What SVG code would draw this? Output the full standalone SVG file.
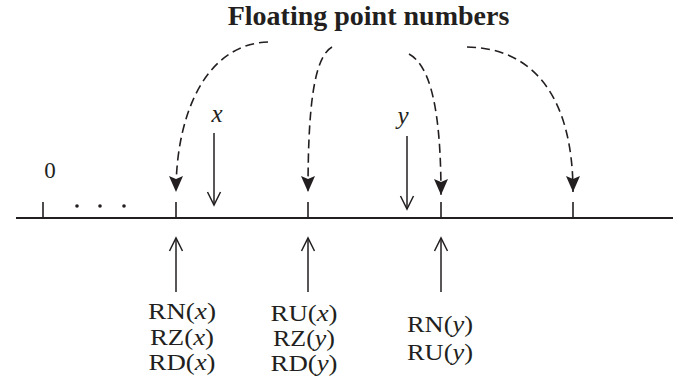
<svg xmlns="http://www.w3.org/2000/svg" width="685" height="385" viewBox="0 0 685 385">
<style>
text{font-family:"Liberation Serif","Times New Roman",serif;fill:#231f20}
.title{font-size:28px;font-weight:bold;text-anchor:middle}
.lbl{font-size:24px;text-anchor:middle}
.it{font-style:italic}
.axis{stroke:#231f20;stroke-width:2;fill:none}
.tick{stroke:#231f20;stroke-width:1.6;fill:none}
.dash{stroke:#231f20;stroke-width:1.6;fill:none;stroke-dasharray:9 5}
.arr{stroke:#231f20;stroke-width:1.5;fill:none}
</style>
<defs>
<marker id="fill" markerUnits="userSpaceOnUse" viewBox="-17 -8 19 16" refX="0" refY="0" markerWidth="19" markerHeight="16" orient="auto">
<path d="M-16,-7 L0,0 L-16,7 L-13,0 Z" fill="#231f20"/>
</marker>
<marker id="open" markerUnits="userSpaceOnUse" viewBox="-15 -8 17 16" refX="0" refY="0" markerWidth="17" markerHeight="16" orient="auto">
<path d="M-13,-6.5 Q-4,-2 0,0 Q-4,2 -13,6.5" fill="none" stroke="#231f20" stroke-width="1.5"/>
</marker>
</defs>
<text class="title" x="368.5" y="25">Floating point numbers</text>
<g id="axis">
<line class="axis" x1="16" y1="218" x2="673" y2="218"/>
<line class="tick" x1="43" y1="202" x2="43" y2="218"/>
<line class="tick" x1="176" y1="202" x2="176" y2="218"/>
<line class="tick" x1="308" y1="202" x2="308" y2="218"/>
<line class="tick" x1="441" y1="202" x2="441" y2="218"/>
<line class="tick" x1="573" y1="202" x2="573" y2="218"/>
<circle cx="77" cy="206" r="1.8" fill="#231f20"/>
<circle cx="100" cy="206" r="1.8" fill="#231f20"/>
<circle cx="124" cy="206" r="1.8" fill="#231f20"/>
<text x="50" y="178" style="font-size:23px;text-anchor:middle">0</text>
</g>
<g id="connectors">
<path class="dash" d="M268,42 C207,44 176,112 176,192" marker-end="url(#fill)"/>
<path class="dash" d="M332,47 C313,58 308,112 308,192" marker-end="url(#fill)"/>
<path class="dash" d="M409,54 C431,66 441,112 441,195" marker-end="url(#fill)"/>
<path class="dash" d="M467,47 C537,48 573,102 573,192" marker-end="url(#fill)"/>
<line class="arr" x1="214" y1="133" x2="214" y2="205" marker-end="url(#open)"/>
<line class="arr" x1="407" y1="136" x2="407" y2="209" marker-end="url(#open)"/>
<line class="arr" x1="176" y1="292" x2="176" y2="238" marker-end="url(#open)"/>
<line class="arr" x1="308" y1="292" x2="308" y2="238" marker-end="url(#open)"/>
<line class="arr" x1="441" y1="292" x2="441" y2="238" marker-end="url(#open)"/>
</g>
<g id="x-label"><text class="lbl it" x="217" y="122" style="font-size:25px">x</text></g>
<g id="y-label"><text class="lbl it" x="403" y="124" style="font-size:25px">y</text></g>
<g id="col1">
<text class="lbl" x="182" y="319" textLength="68" lengthAdjust="spacingAndGlyphs">RN(<tspan class="it">x</tspan>)</text>
<text class="lbl" x="182" y="345" textLength="64" lengthAdjust="spacingAndGlyphs">RZ(<tspan class="it">x</tspan>)</text>
<text class="lbl" x="182" y="370" textLength="67" lengthAdjust="spacingAndGlyphs">RD(<tspan class="it">x</tspan>)</text>
</g>
<g id="col2">
<text class="lbl" x="304" y="321" textLength="67" lengthAdjust="spacingAndGlyphs">RU(<tspan class="it">x</tspan>)</text>
<text class="lbl" x="304" y="346" textLength="62" lengthAdjust="spacingAndGlyphs">RZ(<tspan class="it">y</tspan>)</text>
<text class="lbl" x="304" y="371" textLength="67" lengthAdjust="spacingAndGlyphs">RD(<tspan class="it">y</tspan>)</text>
</g>
<g id="col3">
<text class="lbl" x="440" y="332" textLength="66" lengthAdjust="spacingAndGlyphs">RN(<tspan class="it">y</tspan>)</text>
<text class="lbl" x="440" y="360" textLength="66" lengthAdjust="spacingAndGlyphs">RU(<tspan class="it">y</tspan>)</text>
</g>
</svg>
